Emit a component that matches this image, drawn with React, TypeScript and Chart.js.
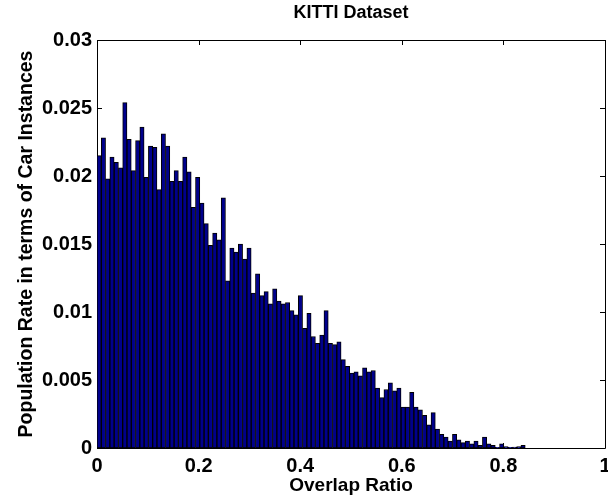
import React, { useEffect, useRef } from "react";
import { Chart, registerables } from "chart.js";

Chart.register(...registerables);

// Histogram of overlap ratio: 100 bins spanning 0 .. ~0.843
const BIN_WIDTH = 0.00843;
const POPULATION_RATE = [
  0.0215, 0.0228, 0.0198, 0.0214, 0.021, 0.0206, 0.0254, 0.0227, 0.0204, 0.0226,
  0.0236, 0.0199, 0.0222, 0.0221, 0.019, 0.0231, 0.0222, 0.0196, 0.0204, 0.0196,
  0.0214, 0.0203, 0.0177, 0.0199, 0.018, 0.0165, 0.0149, 0.0158, 0.0153, 0.0184,
  0.0123, 0.0147, 0.0144, 0.015, 0.0139, 0.0147, 0.0114, 0.0128, 0.0112, 0.0115,
  0.0106, 0.0117, 0.0108, 0.0106, 0.0107, 0.0101, 0.0098, 0.0112, 0.0088, 0.0099,
  0.0082, 0.0077, 0.0083, 0.0101, 0.0077, 0.0076, 0.0078, 0.0065, 0.006, 0.0055,
  0.0056, 0.0053, 0.0059, 0.0056, 0.0057, 0.0044, 0.0037, 0.0043, 0.0048, 0.0042,
  0.0044, 0.003, 0.003, 0.0041, 0.003, 0.0028, 0.0024, 0.0017, 0.0026, 0.0014,
  0.001, 0.0008, 0.0005, 0.001, 0.0006, 0.0004, 0.0005, 0.0003, 0.0005, 0.0002,
  0.0008, 0.0003, 0.0002, 0.00005, 0.0003, 0.0001, 0.00005, 0.00007, 0.0001, 0.0002,
];
const X_TICKS = [0, 0.2, 0.4, 0.6, 0.8, 1];
const Y_TICKS = [0, 0.005, 0.01, 0.015, 0.02, 0.025, 0.03];

const TITLE = "KITTI Dataset";
const X_TITLE = "Overlap Ratio";
const Y_TITLE = "Population Rate in terms of Car Instances";
const FONT = "'Liberation Sans', Arial, Helvetica, sans-serif";

const boxPlugin = {
  id: "matlabBox",
  beforeDatasetsDraw(chart: any) {
    const { ctx, chartArea } = chart;
    const { left, right, top, bottom } = chartArea;
    const xs = chart.scales.x;
    const ys = chart.scales.y;
    const tl = 5;
    ctx.save();
    ctx.strokeStyle = "#000";
    ctx.lineWidth = 1;
    ctx.beginPath();
    ctx.rect(Math.round(left) + 0.5, Math.round(top) + 0.5, Math.round(right - left), Math.round(bottom - top));
    for (const v of X_TICKS) {
      const px = Math.round(xs.getPixelForValue(v)) + 0.5;
      ctx.moveTo(px, top);
      ctx.lineTo(px, top + tl);
      ctx.moveTo(px, bottom);
      ctx.lineTo(px, bottom - tl);
    }
    for (const v of Y_TICKS) {
      const py = Math.round(ys.getPixelForValue(v)) + 0.5;
      ctx.moveTo(left, py);
      ctx.lineTo(left + tl, py);
      ctx.moveTo(right, py);
      ctx.lineTo(right - tl, py);
    }
    ctx.stroke();
    ctx.restore();
  },
  afterDraw(chart: any) {
    const { ctx, chartArea } = chart;
    ctx.save();
    ctx.fillStyle = "#000";
    ctx.font = `bold 18px ${FONT}`;
    ctx.textAlign = "center";
    ctx.textBaseline = "middle";
    ctx.fillText(TITLE, (chartArea.left + chartArea.right) / 2, 13);
    ctx.restore();
  },
};

export default function App() {
  const ref = useRef<HTMLCanvasElement>(null);
  useEffect(() => {
    document.body.style.margin = "0";
    const canvas = ref.current!;
    const chart = new Chart(canvas, {
      type: "bar",
      data: {
        datasets: [
          {
            data: POPULATION_RATE.map((v, i) => ({ x: (i + 0.5) * BIN_WIDTH, y: v })),
            backgroundColor: "#00008C",
            borderColor: "#000000",
            borderWidth: 1,
            borderSkipped: false,
            barPercentage: 1,
            categoryPercentage: 1,
          },
        ],
      },
      options: {
        responsive: false,
        animation: false,
        events: [],
        layout: { padding: { top: 40, right: 35, left: 0, bottom: 0 } },
        plugins: {
          legend: { display: false },
          tooltip: { enabled: false },
          title: { display: false },
        },
        scales: {
          x: {
            type: "linear",
            offset: false,
            min: 0,
            max: 1,
            afterFit: (s: any) => {
              s.height = 47;
            },
            afterBuildTicks: (s: any) => {
              s.ticks = X_TICKS.map((v) => ({ value: v }));
            },
            grid: { display: false, drawTicks: false, offset: false },
            border: { display: false },
            ticks: {
              color: "#000",
              padding: 6,
              maxRotation: 0,
              autoSkip: false,
              font: { family: FONT, size: 20, weight: "bold" },
              callback: (v: any) => String(parseFloat(Number(v).toFixed(3))),
            },
            title: {
              display: true,
              text: X_TITLE,
              color: "#000",
              padding: { top: 0, bottom: 0 },
              font: { family: FONT, size: 19, weight: "bold", lineHeight: 1 },
            },
          },
          y: {
            type: "linear",
            min: 0,
            max: 0.03,
            afterFit: (s: any) => {
              s.width = 97;
            },
            afterBuildTicks: (s: any) => {
              s.ticks = Y_TICKS.map((v) => ({ value: v }));
            },
            grid: { display: false, drawTicks: false },
            border: { display: false },
            ticks: {
              color: "#000",
              padding: 5,
              autoSkip: false,
              font: { family: FONT, size: 20, weight: "bold" },
              callback: (v: any) => String(parseFloat(Number(v).toFixed(4))),
            },
            title: {
              display: true,
              text: Y_TITLE,
              color: "#000",
              padding: { top: 17, bottom: 0 },
              font: { family: FONT, size: 19.5, weight: "bold", lineHeight: 1 },
            },
          },
        },
      },
      plugins: [boxPlugin],
    });
    return () => chart.destroy();
  }, []);
  return (
    <div style={{ position: "fixed", left: 0, top: 0, width: 608, height: 495, overflow: "hidden", background: "#fff" }}>
      <canvas ref={ref} width={640} height={495} style={{ display: "block" }} />
    </div>
  );
}
